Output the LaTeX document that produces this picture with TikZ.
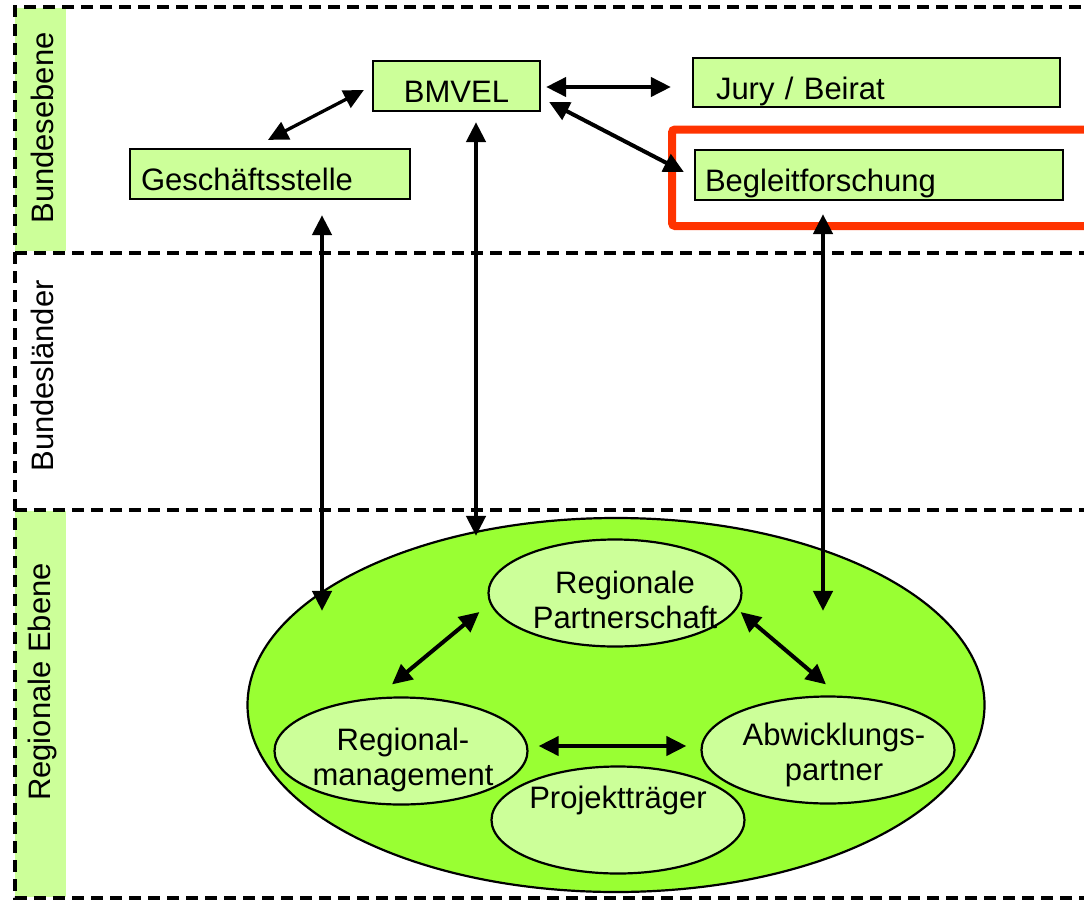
\documentclass[tikz,border=0pt]{standalone}
\usepackage{fontspec}
\setmainfont{Liberation Sans}
\usetikzlibrary{arrows.meta,shapes.geometric}
\definecolor{levelPale}{HTML}{CCFF99}
\definecolor{levelLime}{HTML}{99FF33}
\definecolor{levelRed}{HTML}{FF3300}

\begin{document}
\begin{tikzpicture}[x=1pt,y=-1pt,font=\fontsize{31}{35}\selectfont,
  box/.style={draw,line width=2.2pt,fill=levelPale,minimum height=50pt,inner ysep=0pt,text height=33pt,text depth=0pt},
  blob/.style={draw,line width=2.2pt,ellipse,fill=levelPale,minimum width=253pt,minimum height=107pt,inner sep=0pt},
  band/.style={draw,dash pattern=on 12pt off 7pt,line width=3.6pt},
  link/.style={{Triangle[length=20pt,width=19pt]}-{Triangle[length=20pt,width=19pt]},line width=4pt}]
\useasboundingbox (0,0) rectangle (1084,902);
\clip (0,0) rectangle (1084,902);
% level strips
\fill[levelPale] (15,8) rectangle (66,251);
\fill[levelPale] (15,511) rectangle (66,897);
\draw[band] (1100,7) -- (15,7) -- (15,898) -- (1100,898);
\draw[band] (15,253) -- (1100,253);
\draw[band] (15,510) -- (1100,510);
\node[rotate=90] (bund) at (42,128) {Bundesebene};
\node[rotate=90] (land) at (42,376) {Bundesländer};
\node[rotate=90] (regio) at (42,682) {Regionale Ebene};
% red frame
\draw[levelRed,line width=8pt,rounded corners=3pt] (672,129.5) rectangle (1100,226);
% federal level
\node[box,minimum width=167pt] (bmvel) at (456.5,86) {BMVEL};
\node[box,text width=258pt,inner xsep=11pt,align=left] (gs) at (270,174) {Geschäftsstelle};
\node[box,text width=321pt,inner xsep=23pt,align=left,minimum height=49pt] (jury) at (876.5,82.5) {Jury / Beirat};
\node[box,text width=348pt,inner xsep=10pt,align=left] (bf) at (879,175) {Begleitforschung};
% regional level
\node[ellipse,draw,line width=2.2pt,fill=levelLime,minimum width=737pt,minimum height=374pt] (region) at (616,705) {};
\node[blob,label={[align=center,xshift=10pt,yshift=-7pt]center:Regionale\\Partnerschaft}] (rp) at (615,593) {};
\node[blob,label={[align=center,xshift=2pt,yshift=-9pt]center:Regional-\\management}] (rm) at (401,751) {};
\node[blob,label={[align=center,xshift=6pt,yshift=-5pt]center:Abwicklungs-\\partner}] (ap) at (828,750) {};
\node[blob,label={[yshift=20pt]center:Projektträger}] (pt) at (618,820) {};
\draw[link,line width=3.3pt] ([shift={(-2,-8)}]gs.north) -- ([shift={(-8,4)}]bmvel.west);
\draw[link] ([shift={(5,1)}]bmvel.east) -- ([shift={(-21,4.5)}]jury.west);
\draw[link] ([shift={(8,16)}]bmvel.east) -- ([shift={(-10,-3)}]bf.west);
\draw[link,line width=4.5pt] ([shift={(52,15)}]gs.south) -- ([shift={(-294,94)}]region.north);
\draw[link,line width=4.5pt] ([shift={(19.5,10)}]bmvel.south) -- ([shift={(-140,19)}]region.north);
\draw[link,line width=4.5pt] ([shift={(-56,13)}]bf.south) -- ([shift={(207,94)}]region.north);
\draw[link] ([shift={(-8,19)}]rp.west) -- ([shift={(-9,-12)}]rm.north);
\draw[link] ([shift={(-2,19)}]rp.east) -- ([shift={(-2,-11)}]ap.north);
\draw[link] ([shift={(10,-5)}]rm.east) -- ([shift={(-14,-4)}]ap.west);
\end{tikzpicture}
\end{document}
